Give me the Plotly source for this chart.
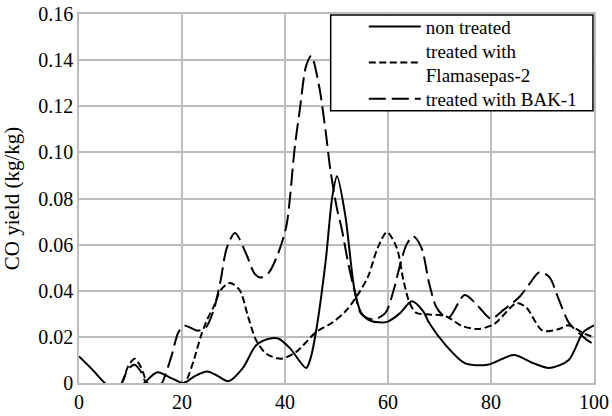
import plotly.graph_objects as go

# ---- data ----
x_ticks = [0, 20, 40, 60, 80, 100]
x_tick_labels = ["0", "20", "40", "60", "80", "100"]
y_ticks = [0, 0.02, 0.04, 0.06, 0.08, 0.10, 0.12, 0.14, 0.16]
y_tick_labels = ["0", "0.02", "0.04", "0.06", "0.08", "0.10", "0.12", "0.14", "0.16"]

non_x = [0, 2.5, 5, 8, 11, 12.7, 15.2, 18, 20.3, 22.5, 24.9, 27, 29, 31.8, 34.4, 36.9, 38.8, 41,
         44.1, 45, 46, 47.9, 49.2, 50.1, 51.7, 53.5, 54.8, 56.7, 59.8, 62.4, 64.6, 66.8, 68, 71.2,
         74.9, 79.3, 84.4, 88.2, 91.3, 95.1, 97.9, 100]
non_y = [0.0115, 0.006, 0.0, -0.005, -0.004, 0.0, 0.0047, 0.002, 0.0, 0.003, 0.005, 0.003, 0.0008,
         0.0065, 0.0164, 0.0192, 0.0192, 0.015, 0.0065, 0.011, 0.022, 0.053, 0.081, 0.0896, 0.0727,
         0.0403, 0.0304, 0.0269, 0.0265, 0.0304, 0.0354, 0.0312, 0.026, 0.0164, 0.0086, 0.0079,
         0.0121, 0.0086, 0.0065, 0.010, 0.022, 0.025]

fla_x = [0, 5, 8.3, 9.5, 10.8, 12, 13.3, 16, 19, 20.8, 22.4, 23.7, 24.9, 26.2, 27.5, 29.3, 31.2,
         32.8, 34.4, 36.3, 38.5, 39.7, 42.2, 46, 49.2, 51.7, 53.9, 56.1, 58, 59.8, 61.7, 63, 64.2,
         65.5, 68, 71.2, 74.3, 77.5, 80.6, 85, 86.9, 90, 93.2, 95, 98.2, 100]
fla_y = [-0.01, -0.008, 0.0, 0.007, 0.0105, 0.007, 0.0, -0.005, -0.003, 0.001, 0.0107, 0.0206,
         0.0276, 0.0333, 0.0403, 0.0434, 0.0403, 0.029, 0.0185, 0.0128, 0.0107, 0.0107, 0.0135,
         0.022, 0.0262, 0.031, 0.0375, 0.046, 0.0586, 0.0654, 0.0586, 0.0445, 0.0347, 0.0304,
         0.0297, 0.029, 0.0248, 0.0234, 0.0255, 0.0347, 0.0326, 0.0227, 0.0234, 0.025, 0.0213, 0.0199]

bak_x = [0, 5, 8.3, 9.5, 10.8, 12, 13, 14.5, 16.1, 18, 19.3, 20.5, 23, 24.6, 26.2, 27.5, 28.7,
         30.3, 32.5, 34.1, 35.3, 36.9, 38.8, 40.3, 41.9, 42.9, 44.1, 45.1, 46.6, 47.9, 48.8, 50.1,
         51, 52.3, 53.5, 54.8, 57.3, 59.5, 61.1, 62.4, 63.6, 64.9, 66.5, 68, 69.3, 70.5, 71.8,
         74.9, 77.5, 80, 82.5, 85.6, 87.5, 89.4, 91.3, 93.2, 95.1, 97.6, 99.2, 100]
bak_y = [-0.01, -0.008, 0.0, 0.006, 0.0079, 0.005, 0.0, -0.004, 0.0, 0.012, 0.022, 0.0248, 0.0227,
         0.024, 0.032, 0.0445, 0.0586, 0.065, 0.0558, 0.0474, 0.0457, 0.048, 0.057, 0.0685, 0.1023,
         0.119, 0.1375, 0.1418, 0.129, 0.109, 0.0925, 0.0755, 0.067, 0.0516, 0.040, 0.030, 0.0276,
         0.0304, 0.0403, 0.0516, 0.06, 0.0636, 0.0586, 0.0431, 0.0333, 0.0297, 0.0283, 0.0382,
         0.0333, 0.0279, 0.0318, 0.0375, 0.0431, 0.048, 0.046, 0.036, 0.0262, 0.0206, 0.0178, 0.017]

series_names = ["non treated", "treated with<br>Flamasepas-2", "treated with BAK-1"]

FONT = "Times New Roman, Liberation Serif, DejaVu Serif, serif"
GRID = "#bdbdbd"
LEG_FONT = dict(family=FONT, size=19, color="black")

fig = go.Figure()
fig.add_trace(go.Scatter(x=non_x, y=non_y, mode="lines", name=series_names[0], legend="legend",
                         line=dict(color="black", width=2, shape="spline", smoothing=0.8)))
fig.add_trace(go.Scatter(x=fla_x, y=fla_y, mode="lines", name=series_names[1], legend="legend2",
                         line=dict(color="black", width=2, dash="7px,3.5px", shape="spline", smoothing=0.8)))
fig.add_trace(go.Scatter(x=bak_x, y=bak_y, mode="lines", name=series_names[2], legend="legend3",
                         line=dict(color="black", width=2, dash="17px,6px", shape="spline", smoothing=0.8)))

leg_common = dict(x=0.553, xanchor="left", yanchor="middle", bgcolor="rgba(0,0,0,0)",
                  borderwidth=0, font=LEG_FONT, itemwidth=52)

fig.update_layout(
    width=612, height=416,
    margin=dict(l=79, r=3, t=14, b=24),
    paper_bgcolor="white", plot_bgcolor="white",
    font=dict(family=FONT, size=20, color="black"),
    showlegend=True,
    legend=dict(y=0.9656, **leg_common),
    legend2=dict(y=0.8677, **leg_common),
    legend3=dict(y=0.7698, **leg_common),
    shapes=[dict(type="rect", xref="paper", yref="paper", x0=0.4887, x1=0.998, y0=0.738, y1=0.997,
                 line=dict(color="black", width=1.5), fillcolor="white", layer="above")],
    xaxis=dict(range=[0, 100], tickvals=x_ticks, ticktext=x_tick_labels,
               showgrid=True, gridcolor=GRID, gridwidth=1.5,
               showline=True, linecolor=GRID, linewidth=1.5, mirror=True,
               zeroline=False, ticks="", ticklabeloverflow="allow",
               tickfont=dict(family=FONT, size=20)),
    yaxis=dict(range=[0, 0.16], tickvals=y_ticks, ticktext=y_tick_labels,
               showgrid=True, gridcolor=GRID, gridwidth=1.5,
               showline=True, linecolor=GRID, linewidth=1.5, mirror=True,
               zeroline=False, ticks="", ticklabeloverflow="allow",
               tickfont=dict(family=FONT, size=20),
               title=dict(text="CO yield (kg/kg)", font=dict(family=FONT, size=21))),
)

fig.write_html("out.html",
               config={"displayModeBar": False},
               post_script="document.body.style.margin='0';document.body.style.padding='0';")
